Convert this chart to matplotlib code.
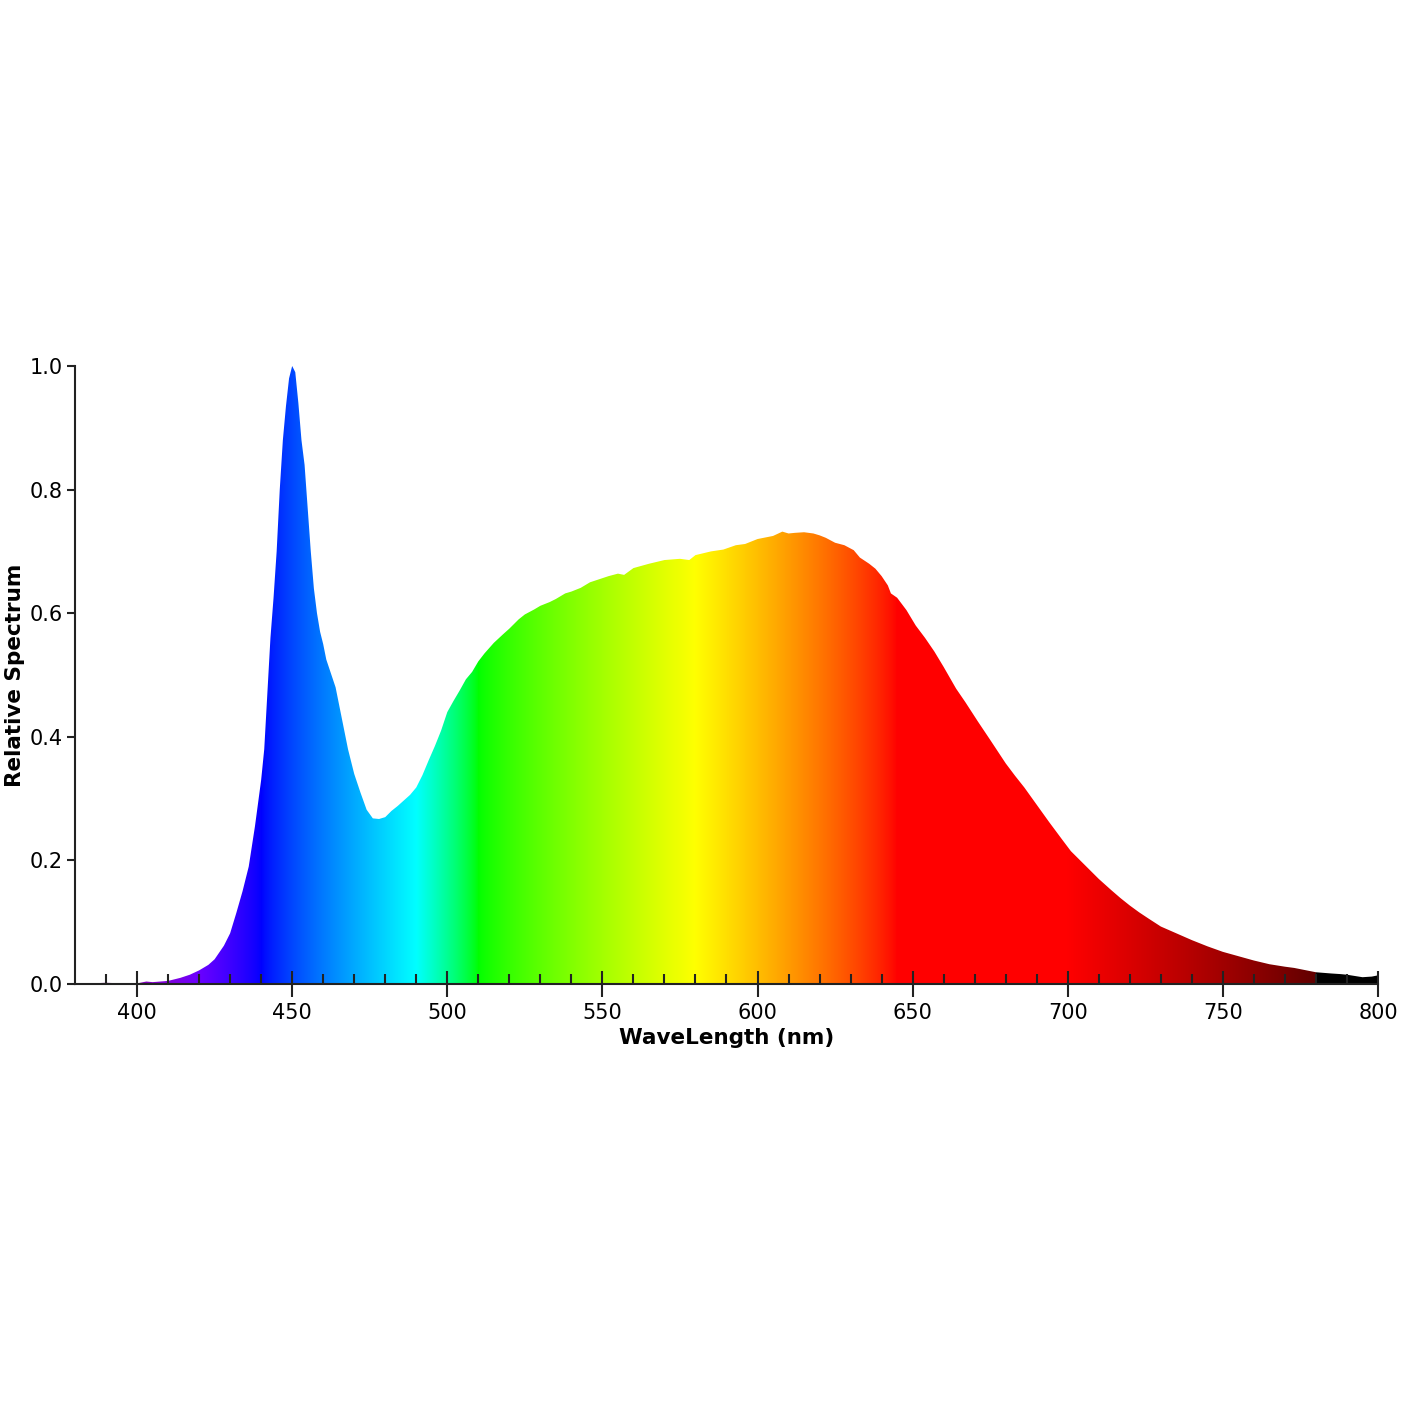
import numpy as np
import matplotlib
matplotlib.use("Agg")
import matplotlib.pyplot as plt
from matplotlib.patches import Polygon

# spectrum (nm, relative)
wavelength = [380, 385, 390, 395, 400, 403, 405, 410, 414, 417, 420, 423, 425, 428,
              430, 432, 434, 436, 438, 440, 441, 442, 443, 444, 445, 446, 447, 448,
              449, 450, 451, 452, 453, 454, 455, 456, 457, 458, 459, 460, 461, 462,
              463, 464, 466, 468, 470, 472, 474, 476, 478, 480, 482, 484, 486, 488,
              490, 492, 494, 496, 498, 500, 502, 504, 506, 508, 510, 512, 515, 518,
              520, 523, 525, 528, 530, 533, 535, 538, 540, 543, 546, 549, 552, 555,
              557, 560, 565, 570, 575, 578, 580, 585, 589, 593, 596, 600, 605, 608,
              610, 612, 615, 618, 620, 622, 625, 628, 631, 633, 636, 638, 640, 642,
              643, 645, 648, 651, 654, 657, 660, 664, 667, 671, 675, 680, 683, 686,
              690, 694, 698, 701, 705, 710, 714, 717, 720, 723, 726, 730, 735, 740,
              745, 750, 755, 760, 765, 770, 773, 775, 780, 785, 788, 790, 795, 798,
              800]
relative = [0.001, 0.001, 0.002, 0.001, 0.001, 0.004, 0.003, 0.005, 0.010, 0.015,
            0.022, 0.031, 0.040, 0.062, 0.082, 0.115, 0.150, 0.190, 0.255, 0.330,
            0.380, 0.470, 0.560, 0.625, 0.700, 0.800, 0.880, 0.935, 0.980, 1.000,
            0.990, 0.940, 0.880, 0.840, 0.770, 0.700, 0.640, 0.600, 0.570, 0.550,
            0.525, 0.510, 0.495, 0.480, 0.430, 0.380, 0.340, 0.310, 0.282, 0.268,
            0.267, 0.270, 0.280, 0.288, 0.297, 0.306, 0.318, 0.338, 0.362, 0.385,
            0.410, 0.440, 0.458, 0.475, 0.493, 0.505, 0.522, 0.535, 0.552, 0.566,
            0.575, 0.590, 0.598, 0.606, 0.612, 0.618, 0.623, 0.632, 0.635, 0.641,
            0.650, 0.655, 0.660, 0.664, 0.662, 0.673, 0.680, 0.686, 0.688, 0.686,
            0.694, 0.700, 0.703, 0.710, 0.712, 0.720, 0.725, 0.732, 0.729, 0.730,
            0.731, 0.729, 0.726, 0.722, 0.714, 0.710, 0.702, 0.690, 0.680, 0.672,
            0.660, 0.645, 0.632, 0.625, 0.605, 0.580, 0.560, 0.538, 0.513, 0.478,
            0.456, 0.425, 0.395, 0.357, 0.337, 0.318, 0.290, 0.262, 0.235, 0.215,
            0.195, 0.170, 0.152, 0.139, 0.127, 0.116, 0.106, 0.093, 0.082, 0.071,
            0.061, 0.052, 0.045, 0.038, 0.032, 0.028, 0.026, 0.024, 0.019, 0.017,
            0.016, 0.015, 0.011, 0.012, 0.014]


def wl_to_rgb(w, gamma=0.8):
    # classic visible spectrum approximation
    if 380 <= w < 440:
        r, g, b = (440 - w) / 60, 0.0, 1.0
    elif w < 490:
        r, g, b = 0.0, (w - 440) / 50, 1.0
    elif w < 510:
        r, g, b = 0.0, 1.0, (510 - w) / 20
    elif w < 580:
        r, g, b = (w - 510) / 70, 1.0, 0.0
    elif w < 645:
        r, g, b = 1.0, (645 - w) / 65, 0.0
    elif w <= 780:
        r, g, b = 1.0, 0.0, 0.0
    else:
        r, g, b = 0.0, 0.0, 0.0
    if w < 420:
        f = 0.3 + 0.7 * (w - 380) / 40
    elif w > 700:
        f = 0.3 + 0.7 * (780 - w) / 80
    else:
        f = 1.0
    if w > 780:
        f = 0.0
    return [(c * f) ** gamma if c > 0 else 0.0 for c in (r, g, b)]


fig = plt.figure(figsize=(14.2, 14.2), dpi=100)
ax = fig.add_axes([75 / 1420, 436 / 1420, 1303 / 1420, 618 / 1420])

grid = np.linspace(380, 800, 1681)
colors = np.array([wl_to_rgb(w) for w in grid])
im = ax.imshow(colors[np.newaxis, :, :], extent=[380, 800, 0, 1], aspect='auto',
               origin='lower', interpolation='bilinear', zorder=1)

wl = np.array(wavelength, dtype=float)
rel = np.array(relative, dtype=float)
pts = np.column_stack([np.r_[wl[0], wl, wl[-1]], np.r_[0, rel, 0]])
shape = Polygon(pts, closed=True, facecolor='none', edgecolor='none',
                transform=ax.transData)
ax.add_patch(shape)
im.set_clip_path(shape)

ax.set_xlim(380, 800)
ax.set_ylim(0, 1.0)

for s in ['top', 'right']:
    ax.spines[s].set_visible(False)
for s in ['left', 'bottom']:
    ax.spines[s].set_linewidth(1.5)
    ax.spines[s].set_color('#222222')

ax.set_xticks(np.arange(400, 801, 50))
ax.set_xticks(np.arange(390, 800, 10), minor=True)
ax.set_yticks(np.arange(0, 1.01, 0.2))
ax.yaxis.set_major_formatter(matplotlib.ticker.FormatStrFormatter('%.1f'))

ax.tick_params(axis='x', which='major', direction='inout', length=19, width=1.5,
               color='#222222', labelsize=15, pad=4)
ax.tick_params(axis='x', which='minor', direction='in', length=7, width=1.5,
               color='#222222')
ax.tick_params(axis='y', which='major', direction='out', length=6, width=1.5,
               color='#222222', labelsize=15, pad=3)

ax.set_xlabel('WaveLength (nm)', fontsize=15.5, fontweight='bold', labelpad=4)
ax.set_ylabel('Relative Spectrum', fontsize=15.5, fontweight='bold', labelpad=3)

fig.savefig('out.png', dpi=100)
